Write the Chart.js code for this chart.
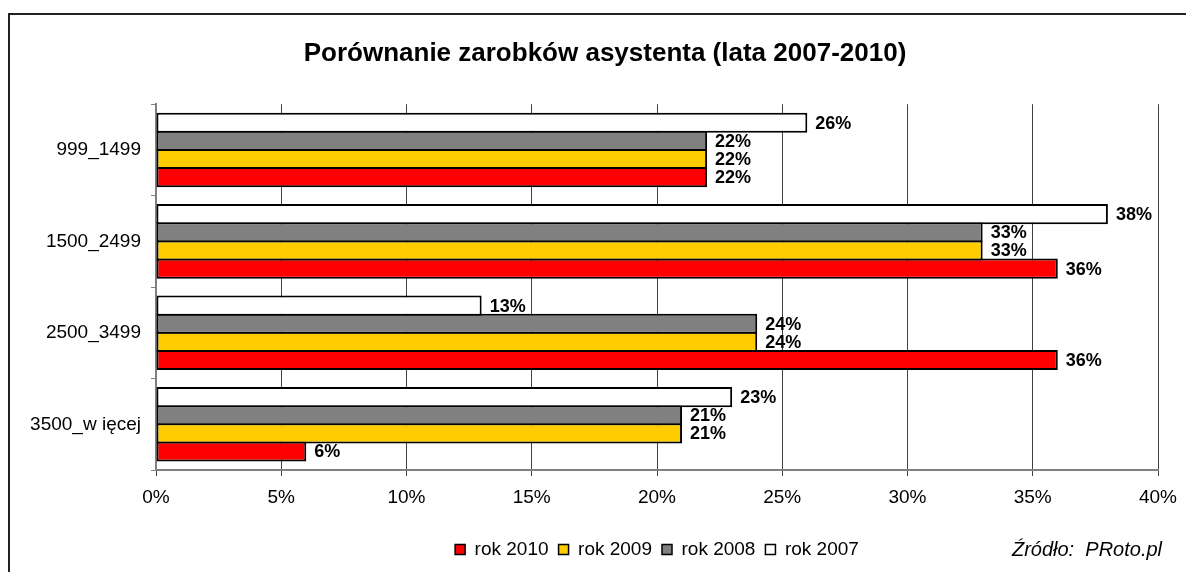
<!DOCTYPE html>
<html>
<head>
<meta charset="utf-8">
<script src="https://cdn.jsdelivr.net/npm/chart.js@4.4.1/dist/chart.umd.min.js"></script>
<style>
  html, body { margin: 0; padding: 0; background: #fff; overflow: hidden; }
  body { width: 1186px; height: 572px; position: relative; }
  #frame { position: absolute; left: 8px; top: 13px; width: 1200px; height: 600px; border: 2px solid #222; box-sizing: border-box; }
  #chart { position: absolute; left: 8px; top: 13px; }
</style>
</head>
<body>
<div id="frame"></div>
<canvas id="chart" width="1194" height="559"></canvas>
<script>
// categories and values (percent)
const categories = ['999_1499', '1500_2499', '2500_3499', '3500_w ięcej'];
const rok2007 = [26, 38, 13, 23];
const rok2008 = [22, 33, 24, 21];
const rok2009 = [22, 33, 24, 21];
const rok2010 = [22, 36, 36, 6];
const xMin = 0, xMax = 40, xStep = 5;

const FONT = '"Liberation Sans", Arial, Helvetica, sans-serif';
Chart.defaults.font.family = FONT;
Chart.defaults.color = '#000';

// value labels at the end of each bar
const barLabels = {
    id: 'barLabels',
    afterDatasetsDraw(chart) {
        const ctx = chart.ctx;
        ctx.save();
        ctx.font = 'bold 18px ' + FONT;
        ctx.fillStyle = '#000';
        ctx.textAlign = 'left';
        ctx.textBaseline = 'middle';
        chart.data.datasets.forEach((ds, i) => {
            const meta = chart.getDatasetMeta(i);
            meta.data.forEach((bar, j) => {
                ctx.fillText(ds.data[j] + '%', bar.x + 8, bar.y + 1);
            });
        });
        ctx.restore();
    }
};

// source note, bottom right
const sourceNote = {
    id: 'sourceNote',
    afterDraw(chart) {
        const ctx = chart.ctx;
        const legend = chart.legend;
        ctx.save();
        ctx.font = 'italic 20px ' + FONT;
        ctx.fillStyle = '#000';
        ctx.textAlign = 'right';
        ctx.textBaseline = 'middle';
        ctx.fillText('Źródło:  PRoto.pl', 1154, legend.top + 20);
        ctx.restore();
    }
};

const ctx = document.getElementById('chart').getContext('2d');
const chart = new Chart(ctx, {
    type: 'bar',
    data: {
        labels: categories,
        datasets: [
            { label: 'rok 2007', data: rok2007, backgroundColor: '#FFFFFF' },
            { label: 'rok 2008', data: rok2008, backgroundColor: '#808080' },
            { label: 'rok 2009', data: rok2009, backgroundColor: '#FFCC00' },
            { label: 'rok 2010', data: rok2010, backgroundColor: '#FF0000' }
        ]
    },
    options: {
        indexAxis: 'y',
        responsive: false,
        animation: false,
        layout: { padding: { left: 0, right: 0, top: 0, bottom: 3 } },
        datasets: {
            bar: {
                borderColor: '#000',
                borderWidth: 2,
                borderSkipped: false,
                categoryPercentage: 0.793,
                barPercentage: 1.11
            }
        },
        scales: {
            x: {
                min: xMin,
                max: xMax,
                ticks: {
                    stepSize: xStep,
                    padding: 10,
                    font: { size: 19 },
                    callback: (v) => v + '%'
                },
                grid: { color: '#404040', lineWidth: 1, tickLength: 6 },
                border: { color: '#808080', width: 2 },
                afterFit(scale) { scale.height = 60; }
            },
            y: {
                ticks: { padding: 10, font: { size: 19 } },
                grid: { drawOnChartArea: false, drawTicks: true, tickLength: 5, color: '#808080' },
                border: { color: '#808080', width: 2 },
                afterFit(scale) { scale.width = 148; }
            },
            // empty right-hand margin, so the title stays centred on the whole frame
            margin: {
                type: 'linear',
                axis: 'y',
                position: 'right',
                ticks: { display: false },
                grid: { display: false },
                border: { display: false },
                afterFit(scale) { scale.width = 44; }
            }
        },
        plugins: {
            title: {
                display: true,
                text: 'Porównanie zarobków asystenta (lata 2007-2010)',
                font: { size: 26, weight: 'bold' },
                color: '#000',
                padding: { top: 25, bottom: 35 }
            },
            legend: {
                position: 'bottom',
                fullSize: false,
                reverse: true,
                labels: {
                    boxWidth: 10,
                    boxHeight: 10,
                    padding: 10,
                    font: { size: 19 },
                    color: '#000',
                    generateLabels(chart) {
                        return Chart.defaults.plugins.legend.labels.generateLabels(chart)
                            .map(item => Object.assign(item, { lineWidth: 1.5 }));
                    }
                }
            },
            tooltip: { enabled: false }
        }
    },
    plugins: [barLabels, sourceNote]
});
</script>
</body>
</html>
